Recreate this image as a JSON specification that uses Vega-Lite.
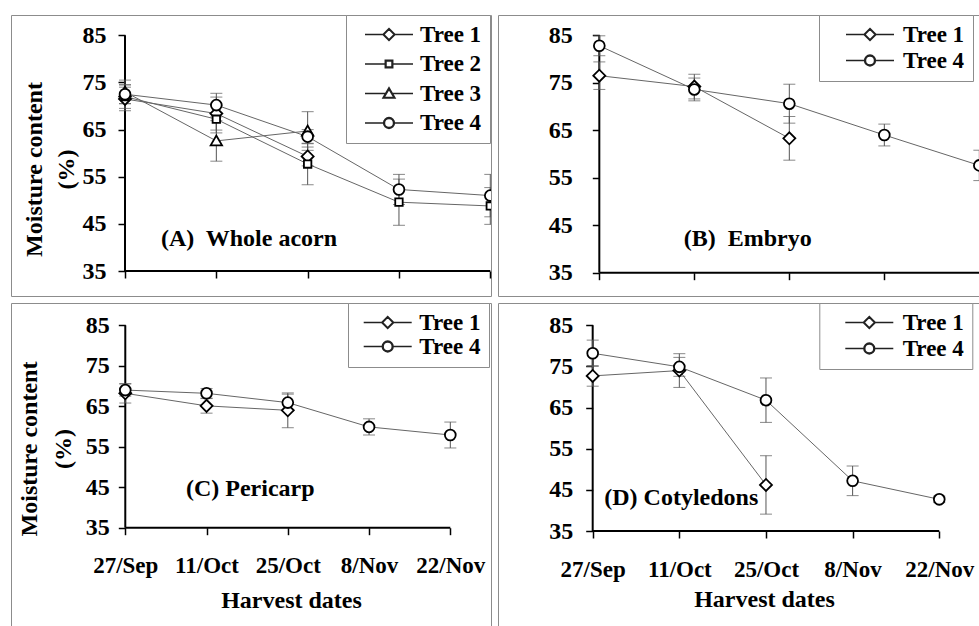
{
  "$schema": "https://vega.github.io/schema/vega-lite/v6.json",
  "background": "white",
  "padding": {"left": 10, "top": 14, "right": 0, "bottom": 0},
  "columns": 2,
  "spacing": 7,
  "bounds": "flush",
  "resolve": {"scale": {"shape": "independent"}, "legend": {"shape": "independent"}},
  "datasets": {
    "moisture": [
      {"panel": "A", "tree": "Tree 1", "day": 0, "mc": 71.5, "err": 2.5},
      {"panel": "A", "tree": "Tree 1", "day": 14, "mc": 68.4, "err": 3.5},
      {"panel": "A", "tree": "Tree 1", "day": 28, "mc": 59.3, "err": 2.0},
      {"panel": "A", "tree": "Tree 2", "day": 0, "mc": 72.0, "err": 2.5},
      {"panel": "A", "tree": "Tree 2", "day": 14, "mc": 67.2, "err": 2.9},
      {"panel": "A", "tree": "Tree 2", "day": 28, "mc": 57.7, "err": 4.4},
      {"panel": "A", "tree": "Tree 2", "day": 42, "mc": 49.6, "err": 4.9},
      {"panel": "A", "tree": "Tree 2", "day": 56, "mc": 48.8, "err": 3.9},
      {"panel": "A", "tree": "Tree 3", "day": 0, "mc": 73.0, "err": 2.5},
      {"panel": "A", "tree": "Tree 3", "day": 14, "mc": 62.6, "err": 4.3},
      {"panel": "A", "tree": "Tree 3", "day": 28, "mc": 64.7, "err": 4.1},
      {"panel": "A", "tree": "Tree 4", "day": 0, "mc": 72.5, "err": 2.0},
      {"panel": "A", "tree": "Tree 4", "day": 14, "mc": 70.2, "err": 2.5},
      {"panel": "A", "tree": "Tree 4", "day": 28, "mc": 63.5, "err": 1.5},
      {"panel": "A", "tree": "Tree 4", "day": 42, "mc": 52.3, "err": 3.2},
      {"panel": "A", "tree": "Tree 4", "day": 56, "mc": 51.0, "err": 4.5},
      {"panel": "B", "tree": "Tree 1", "day": 0, "mc": 76.5, "err": 2.9},
      {"panel": "B", "tree": "Tree 1", "day": 14, "mc": 74.2, "err": 2.6},
      {"panel": "B", "tree": "Tree 1", "day": 28, "mc": 63.3, "err": 4.6},
      {"panel": "B", "tree": "Tree 4", "day": 0, "mc": 82.8, "err": 2.1},
      {"panel": "B", "tree": "Tree 4", "day": 14, "mc": 73.6, "err": 2.4},
      {"panel": "B", "tree": "Tree 4", "day": 28, "mc": 70.6, "err": 4.1},
      {"panel": "B", "tree": "Tree 4", "day": 42, "mc": 64.0, "err": 2.3},
      {"panel": "B", "tree": "Tree 4", "day": 56, "mc": 57.6, "err": 3.2},
      {"panel": "C", "tree": "Tree 1", "day": 0, "mc": 68.2, "err": 2.4},
      {"panel": "C", "tree": "Tree 1", "day": 14, "mc": 65.1, "err": 1.8},
      {"panel": "C", "tree": "Tree 1", "day": 28, "mc": 64.0, "err": 4.3},
      {"panel": "C", "tree": "Tree 4", "day": 0, "mc": 69.0, "err": 1.5},
      {"panel": "C", "tree": "Tree 4", "day": 14, "mc": 68.2, "err": 1.2},
      {"panel": "C", "tree": "Tree 4", "day": 28, "mc": 65.9, "err": 2.1},
      {"panel": "C", "tree": "Tree 4", "day": 42, "mc": 59.9, "err": 2.0},
      {"panel": "C", "tree": "Tree 4", "day": 56, "mc": 57.9, "err": 3.2},
      {"panel": "D", "tree": "Tree 1", "day": 0, "mc": 72.7, "err": 2.5},
      {"panel": "D", "tree": "Tree 1", "day": 14, "mc": 74.0, "err": 4.1},
      {"panel": "D", "tree": "Tree 1", "day": 28, "mc": 46.2, "err": 7.1},
      {"panel": "D", "tree": "Tree 4", "day": 0, "mc": 78.2, "err": 3.2},
      {"panel": "D", "tree": "Tree 4", "day": 14, "mc": 74.9, "err": 2.3},
      {"panel": "D", "tree": "Tree 4", "day": 28, "mc": 66.8, "err": 5.4},
      {"panel": "D", "tree": "Tree 4", "day": 42, "mc": 47.2, "err": 3.6},
      {"panel": "D", "tree": "Tree 4", "day": 56, "mc": 42.7, "err": 0.8}
    ]
  },
  "concat": [
    {
      "width": 480,
      "height": 281,
      "resolve": {"scale": {"shape": "independent"}, "legend": {"shape": "independent"}},
      "layer": [
        {
          "data": {"values": [{}]},
          "mark": {"type": "rule", "color": "black", "strokeWidth": 2},
          "encoding": {"x": {"datum": 0, "type": "quantitative"}, "y": {"datum": 35, "type": "quantitative"}, "y2": {"datum": 85}}
        },
        {
          "data": {"values": [{}]},
          "mark": {"type": "rule", "color": "black", "strokeWidth": 2, "clip": true},
          "encoding": {"x": {"datum": 0, "type": "quantitative"}, "x2": {"datum": 56}, "y": {"datum": 35, "type": "quantitative"}}
        },
        {
          "data": {"name": "moisture"},
          "transform": [{"filter": "datum.panel == 'A'"}],
          "mark": {"type": "line", "color": "#666", "strokeWidth": 1, "clip": true},
          "encoding": {
            "x": {"field": "day", "type": "quantitative", "scale": {"domain": [-17.48, 56.11], "nice": false, "zero": false},
                  "axis": {"values": [0, 14, 28, 42, 56], "offset": -25, "labels": false, "title": null}},
            "y": {"field": "mc", "type": "quantitative", "scale": {"domain": [29.7, 89.31], "nice": false, "zero": false},
                  "axis": {"values": [35, 45, 55, 65, 75, 85], "offset": -114, "labelPadding": 12,
                           "title": ["Moisture content", "(%)"], "titleX": -91, "titleY": 154, "titleBaseline": "middle", "titleAngle": -90, "titleLineHeight": 32}},
            "detail": {"field": "tree"}
          }
        },
        {
          "data": {"name": "moisture"},
          "transform": [{"filter": "datum.panel == 'A'"}],
          "mark": {"type": "errorbar", "ticks": {"size": 12, "color": "#555", "strokeWidth": 1, "clip": true}, "rule": {"color": "#555", "strokeWidth": 1, "clip": true}},
          "encoding": {
            "x": {"field": "day", "type": "quantitative", "title": null},
            "y": {"field": "mc", "type": "quantitative", "title": ["Moisture content", "(%)"]},
            "yError": {"field": "err"}
          }
        },
        {
          "data": {"name": "moisture"},
          "transform": [{"filter": "datum.panel == 'A'"}],
          "mark": {"type": "point", "filled": true, "fill": "white", "stroke": "black", "strokeWidth": 1.8, "opacity": 1, "size": 144, "clip": true},
          "encoding": {
            "x": {"field": "day", "type": "quantitative", "title": null},
            "y": {"field": "mc", "type": "quantitative", "title": ["Moisture content", "(%)"]},
            "shape": {"field": "tree", "type": "nominal", "legend": null,
                      "scale": {"domain": ["Tree 1", "Tree 2", "Tree 3", "Tree 4"],
                                "range": ["M-1,0L0,-1L1,0L0,1Z", "M-0.62,-0.62H0.62V0.62H-0.62Z", "M-0.95,0.75L0,-0.9L0.95,0.75Z", "M-0.9,0A0.9,0.9,0,1,1,0.9,0A0.9,0.9,0,1,1,-0.9,0Z"]}}
          }
        },
        {
          "data": {"name": "moisture"},
          "transform": [{"filter": "datum.panel == 'A'"}],
          "mark": {"type": "point", "filled": true, "fill": "white", "stroke": "#222", "strokeWidth": 1.1, "opacity": 0, "size": 144},
          "encoding": {
            "x": {"field": "day", "type": "quantitative", "title": null},
            "y": {"field": "mc", "type": "quantitative", "title": ["Moisture content", "(%)"]},
            "shape": {"field": "tree", "type": "nominal",
                      "scale": {"domain": ["Tree 1", "Tree 2", "Tree 3", "Tree 4"],
                                "range": ["M-4,0H-1M1,0H4M-1,0L0,-1L1,0L0,1ZM-0.86,0L0,-0.86L0.86,0L0,0.86Z",
                                          "M-4,0H-0.62M0.62,0H4M-0.62,-0.62H0.62V0.62H-0.62ZM-0.5,-0.5H0.5V0.5H-0.5Z",
                                          "M-4,0H-0.56M0.56,0H4M-1,0.75L0,-0.95L1,0.75ZM-0.82,0.65L0,-0.75L0.82,0.65Z",
                                          "M-4,0H-0.9M0.9,0H4M-0.9,0A0.9,0.9,0,1,1,0.9,0A0.9,0.9,0,1,1,-0.9,0ZM-0.76,0A0.76,0.76,0,1,1,0.76,0A0.76,0.76,0,1,1,-0.76,0Z"]},
                      "legend": {"title": null, "orient": "none", "legendX": 335, "legendY": 0, "symbolOffset": 23.5, "labelOffset": 19.5, "rowPadding": 5.5, "symbolOpacity": 1,
                                 "encode": {"symbols": {"update": {"opacity": {"value": 1}, "fill": {"value": "white"}, "stroke": {"value": "#222"}, "strokeWidth": {"value": 1.1}}}}}}
          }
        },
        {
          "data": {"values": [{}]},
          "mark": {"type": "text", "align": "left", "baseline": "middle", "font": "Liberation Serif", "fontSize": 24, "fontWeight": "bold", "color": "black"},
          "encoding": {"x": {"datum": 5.5, "type": "quantitative"}, "y": {"datum": 41.7, "type": "quantitative"}, "text": {"value": "(A)\u00a0 Whole acorn"}}
        }
      ]
    },
    {
      "width": 481,
      "height": 281,
      "resolve": {"scale": {"shape": "independent"}, "legend": {"shape": "independent"}},
      "layer": [
        {
          "data": {"values": [{}]},
          "mark": {"type": "rule", "color": "black", "strokeWidth": 2},
          "encoding": {"x": {"datum": 0, "type": "quantitative"}, "y": {"datum": 35, "type": "quantitative"}, "y2": {"datum": 85}}
        },
        {
          "data": {"values": [{}]},
          "mark": {"type": "rule", "color": "black", "strokeWidth": 2, "clip": true},
          "encoding": {"x": {"datum": 0, "type": "quantitative"}, "x2": {"datum": 56}, "y": {"datum": 35, "type": "quantitative"}}
        },
        {
          "data": {"name": "moisture"},
          "transform": [{"filter": "datum.panel == 'B'"}],
          "mark": {"type": "line", "color": "#666", "strokeWidth": 1, "clip": true},
          "encoding": {
            "x": {"field": "day", "type": "quantitative", "scale": {"domain": [-14.93, 55.95], "nice": false, "zero": false},
                  "axis": {"values": [0, 14, 28, 42, 56], "offset": -23.3, "labels": false, "title": null}},
            "y": {"field": "mc", "type": "quantitative", "scale": {"domain": [30.09, 89.28], "nice": false, "zero": false},
                  "axis": {"values": [35, 45, 55, 65, 75, 85], "offset": -101.3, "labelPadding": 20, "title": null}},
            "detail": {"field": "tree"}
          }
        },
        {
          "data": {"name": "moisture"},
          "transform": [{"filter": "datum.panel == 'B'"}],
          "mark": {"type": "errorbar", "ticks": {"size": 12, "color": "#555", "strokeWidth": 1, "clip": true}, "rule": {"color": "#555", "strokeWidth": 1, "clip": true}},
          "encoding": {
            "x": {"field": "day", "type": "quantitative", "title": null},
            "y": {"field": "mc", "type": "quantitative", "title": null},
            "yError": {"field": "err"}
          }
        },
        {
          "data": {"name": "moisture"},
          "transform": [{"filter": "datum.panel == 'B'"}],
          "mark": {"type": "point", "filled": true, "fill": "white", "stroke": "black", "strokeWidth": 1.8, "opacity": 1, "size": 144, "clip": true},
          "encoding": {
            "x": {"field": "day", "type": "quantitative", "title": null},
            "y": {"field": "mc", "type": "quantitative", "title": null},
            "shape": {"field": "tree", "type": "nominal", "legend": null,
                      "scale": {"domain": ["Tree 1", "Tree 4"], "range": ["M-1,0L0,-1L1,0L0,1Z", "M-0.9,0A0.9,0.9,0,1,1,0.9,0A0.9,0.9,0,1,1,-0.9,0Z"]}}
          }
        },
        {
          "data": {"name": "moisture"},
          "transform": [{"filter": "datum.panel == 'B'"}],
          "mark": {"type": "point", "filled": true, "fill": "white", "stroke": "#222", "strokeWidth": 1.1, "opacity": 0, "size": 144},
          "encoding": {
            "x": {"field": "day", "type": "quantitative", "title": null},
            "y": {"field": "mc", "type": "quantitative", "title": null},
            "shape": {"field": "tree", "type": "nominal",
                      "scale": {"domain": ["Tree 1", "Tree 4"],
                                "range": ["M-4,0H-1M1,0H4M-1,0L0,-1L1,0L0,1ZM-0.86,0L0,-0.86L0.86,0L0,0.86Z",
                                          "M-4,0H-0.9M0.9,0H4M-0.9,0A0.9,0.9,0,1,1,0.9,0A0.9,0.9,0,1,1,-0.9,0ZM-0.76,0A0.76,0.76,0,1,1,0.76,0A0.76,0.76,0,1,1,-0.76,0Z"]},
                      "legend": {"title": null, "orient": "none", "legendX": 321, "legendY": 0, "symbolOffset": 31.5, "labelOffset": 21.5, "rowPadding": 2, "symbolOpacity": 1,
                                 "encode": {"symbols": {"update": {"opacity": {"value": 1}, "fill": {"value": "white"}, "stroke": {"value": "#222"}, "strokeWidth": {"value": 1.1}}}}}}
          }
        },
        {
          "data": {"values": [{}]},
          "mark": {"type": "text", "align": "left", "baseline": "middle", "font": "Liberation Serif", "fontSize": 24, "fontWeight": "bold", "color": "black"},
          "encoding": {"x": {"datum": 12.44, "type": "quantitative"}, "y": {"datum": 42.0, "type": "quantitative"}, "text": {"value": "(B)\u00a0 Embryo"}}
        }
      ]
    },
    {
      "width": 480,
      "height": 323,
      "resolve": {"scale": {"shape": "independent"}, "legend": {"shape": "independent"}},
      "layer": [
        {
          "data": {"values": [{}]},
          "mark": {"type": "rule", "color": "black", "strokeWidth": 2},
          "encoding": {"x": {"datum": 0, "type": "quantitative"}, "y": {"datum": 35, "type": "quantitative"}, "y2": {"datum": 85}}
        },
        {
          "data": {"values": [{}]},
          "mark": {"type": "rule", "color": "black", "strokeWidth": 2, "clip": true},
          "encoding": {"x": {"datum": 0, "type": "quantitative"}, "x2": {"datum": 56}, "y": {"datum": 35, "type": "quantitative"}}
        },
        {
          "data": {"name": "moisture"},
          "transform": [{"filter": "datum.panel == 'C'"}],
          "mark": {"type": "line", "color": "#666", "strokeWidth": 1, "clip": true},
          "encoding": {
            "x": {"field": "day", "type": "quantitative", "scale": {"domain": [-19.69, 63.01], "nice": false, "zero": false},
                  "axis": {"values": [0, 14, 28, 42, 56], "offset": -98.3, "labelPadding": 20,
                           "labelExpr": "datum.value == 0 ? '27/Sep' : datum.value == 14 ? '11/Oct' : datum.value == 28 ? '25/Oct' : datum.value == 42 ? '8/Nov' : '22/Nov'",
                           "title": "Harvest dates", "titleX": 280, "titleY": 73, "titleBaseline": "middle"}},
            "y": {"field": "mc", "type": "quantitative", "scale": {"domain": [10.72, 90.51], "nice": false, "zero": false},
                  "axis": {"values": [35, 45, 55, 65, 75, 85], "offset": -114.3, "labelPadding": 9,
                           "title": ["Moisture content", "(%)"], "titleX": -96, "titleY": 145.5, "titleBaseline": "middle", "titleAngle": -90, "titleLineHeight": 34}},
            "detail": {"field": "tree"}
          }
        },
        {
          "data": {"name": "moisture"},
          "transform": [{"filter": "datum.panel == 'C'"}],
          "mark": {"type": "errorbar", "ticks": {"size": 12, "color": "#555", "strokeWidth": 1, "clip": true}, "rule": {"color": "#555", "strokeWidth": 1, "clip": true}},
          "encoding": {
            "x": {"field": "day", "type": "quantitative", "title": "Harvest dates"},
            "y": {"field": "mc", "type": "quantitative", "title": ["Moisture content", "(%)"]},
            "yError": {"field": "err"}
          }
        },
        {
          "data": {"name": "moisture"},
          "transform": [{"filter": "datum.panel == 'C'"}],
          "mark": {"type": "point", "filled": true, "fill": "white", "stroke": "black", "strokeWidth": 1.8, "opacity": 1, "size": 144, "clip": true},
          "encoding": {
            "x": {"field": "day", "type": "quantitative", "title": "Harvest dates"},
            "y": {"field": "mc", "type": "quantitative", "title": ["Moisture content", "(%)"]},
            "shape": {"field": "tree", "type": "nominal", "legend": null,
                      "scale": {"domain": ["Tree 1", "Tree 4"], "range": ["M-1,0L0,-1L1,0L0,1Z", "M-0.9,0A0.9,0.9,0,1,1,0.9,0A0.9,0.9,0,1,1,-0.9,0Z"]}}
          }
        },
        {
          "data": {"name": "moisture"},
          "transform": [{"filter": "datum.panel == 'C'"}],
          "mark": {"type": "point", "filled": true, "fill": "white", "stroke": "#222", "strokeWidth": 1.1, "opacity": 0, "size": 144},
          "encoding": {
            "x": {"field": "day", "type": "quantitative", "title": "Harvest dates"},
            "y": {"field": "mc", "type": "quantitative", "title": ["Moisture content", "(%)"]},
            "shape": {"field": "tree", "type": "nominal",
                      "scale": {"domain": ["Tree 1", "Tree 4"],
                                "range": ["M-4,0H-1M1,0H4M-1,0L0,-1L1,0L0,1ZM-0.86,0L0,-0.86L0.86,0L0,0.86Z",
                                          "M-4,0H-0.9M0.9,0H4M-0.9,0A0.9,0.9,0,1,1,0.9,0A0.9,0.9,0,1,1,-0.9,0ZM-0.76,0A0.76,0.76,0,1,1,0.76,0A0.76,0.76,0,1,1,-0.76,0Z"]},
                      "legend": {"title": null, "orient": "none", "legendX": 337, "legendY": 0, "symbolOffset": 20.2, "labelOffset": 20.1, "rowPadding": 0, "symbolOpacity": 1,
                                 "encode": {"symbols": {"update": {"opacity": {"value": 1}, "fill": {"value": "white"}, "stroke": {"value": "#222"}, "strokeWidth": {"value": 1.1}}}}}}
          }
        },
        {
          "data": {"values": [{}]},
          "mark": {"type": "text", "align": "left", "baseline": "middle", "font": "Liberation Serif", "fontSize": 24, "fontWeight": "bold", "color": "black"},
          "encoding": {"x": {"datum": 10.46, "type": "quantitative"}, "y": {"datum": 44.6, "type": "quantitative"}, "text": {"value": "(C) Pericarp"}}
        }
      ]
    },
    {
      "width": 481,
      "height": 323,
      "resolve": {"scale": {"shape": "independent"}, "legend": {"shape": "independent"}},
      "layer": [
        {
          "data": {"values": [{}]},
          "mark": {"type": "rule", "color": "black", "strokeWidth": 2},
          "encoding": {"x": {"datum": 0, "type": "quantitative"}, "y": {"datum": 35, "type": "quantitative"}, "y2": {"datum": 85}}
        },
        {
          "data": {"values": [{}]},
          "mark": {"type": "rule", "color": "black", "strokeWidth": 2, "clip": true},
          "encoding": {"x": {"datum": 0, "type": "quantitative"}, "x2": {"datum": 56}, "y": {"datum": 35, "type": "quantitative"}}
        },
        {
          "data": {"name": "moisture"},
          "transform": [{"filter": "datum.panel == 'D'"}],
          "mark": {"type": "line", "color": "#666", "strokeWidth": 1, "clip": true},
          "encoding": {
            "x": {"field": "day", "type": "quantitative", "scale": {"domain": [-15.3, 62.42], "nice": false, "zero": false},
                  "axis": {"values": [0, 14, 28, 42, 56], "offset": -95, "labelPadding": 20,
                           "labelExpr": "datum.value == 0 ? '27/Sep' : datum.value == 14 ? '11/Oct' : datum.value == 28 ? '25/Oct' : datum.value == 42 ? '8/Nov' : '22/Nov'",
                           "title": "Harvest dates", "titleX": 266, "titleY": 68, "titleBaseline": "middle"}},
            "y": {"field": "mc", "type": "quantitative", "scale": {"domain": [11.91, 90.42], "nice": false, "zero": false},
                  "axis": {"values": [35, 45, 55, 65, 75, 85], "offset": -94.7, "labelPadding": 13, "title": null}},
            "detail": {"field": "tree"}
          }
        },
        {
          "data": {"name": "moisture"},
          "transform": [{"filter": "datum.panel == 'D'"}],
          "mark": {"type": "errorbar", "ticks": {"size": 12, "color": "#555", "strokeWidth": 1, "clip": true}, "rule": {"color": "#555", "strokeWidth": 1, "clip": true}},
          "encoding": {
            "x": {"field": "day", "type": "quantitative", "title": "Harvest dates"},
            "y": {"field": "mc", "type": "quantitative", "title": null},
            "yError": {"field": "err"}
          }
        },
        {
          "data": {"name": "moisture"},
          "transform": [{"filter": "datum.panel == 'D'"}],
          "mark": {"type": "point", "filled": true, "fill": "white", "stroke": "black", "strokeWidth": 1.8, "opacity": 1, "size": 144, "clip": true},
          "encoding": {
            "x": {"field": "day", "type": "quantitative", "title": "Harvest dates"},
            "y": {"field": "mc", "type": "quantitative", "title": null},
            "shape": {"field": "tree", "type": "nominal", "legend": null,
                      "scale": {"domain": ["Tree 1", "Tree 4"], "range": ["M-1,0L0,-1L1,0L0,1Z", "M-0.9,0A0.9,0.9,0,1,1,0.9,0A0.9,0.9,0,1,1,-0.9,0Z"]}}
          }
        },
        {
          "data": {"name": "moisture"},
          "transform": [{"filter": "datum.panel == 'D'"}],
          "mark": {"type": "point", "filled": true, "fill": "white", "stroke": "#222", "strokeWidth": 1.1, "opacity": 0, "size": 144},
          "encoding": {
            "x": {"field": "day", "type": "quantitative", "title": "Harvest dates"},
            "y": {"field": "mc", "type": "quantitative", "title": null},
            "shape": {"field": "tree", "type": "nominal",
                      "scale": {"domain": ["Tree 1", "Tree 4"],
                                "range": ["M-4,0H-1M1,0H4M-1,0L0,-1L1,0L0,1ZM-0.86,0L0,-0.86L0.86,0L0,0.86Z",
                                          "M-4,0H-0.9M0.9,0H4M-0.9,0A0.9,0.9,0,1,1,0.9,0A0.9,0.9,0,1,1,-0.9,0ZM-0.76,0A0.76,0.76,0,1,1,0.76,0A0.76,0.76,0,1,1,-0.76,0Z"]},
                      "legend": {"title": null, "orient": "none", "legendX": 321.3, "legendY": 0, "symbolOffset": 30.5, "labelOffset": 21.9, "rowPadding": 2, "symbolOpacity": 1,
                                 "encode": {"symbols": {"update": {"opacity": {"value": 1}, "fill": {"value": "white"}, "stroke": {"value": "#222"}, "strokeWidth": {"value": 1.1}}}}}}
          }
        },
        {
          "data": {"values": [{}]},
          "mark": {"type": "text", "align": "left", "baseline": "middle", "font": "Liberation Serif", "fontSize": 24, "fontWeight": "bold", "color": "black"},
          "encoding": {"x": {"datum": 1.87, "type": "quantitative"}, "y": {"datum": 43.1, "type": "quantitative"}, "text": {"value": "(D) Cotyledons"}}
        }
      ]
    }
  ],
  "config": {
    "font": "Liberation Serif",
    "view": {"stroke": "#8c8c8c", "strokeWidth": 1},
    "axis": {
      "domain": false,
      "grid": false,
      "ticks": true,
      "tickColor": "black",
      "tickWidth": 1.5,
      "tickSize": 7,
      "labelFont": "Liberation Serif",
      "labelFontSize": 24,
      "labelFontWeight": "bold",
      "labelColor": "black",
      "labelOverlap": false,
      "labelFlush": false,
      "labelBound": false,
      "titleFont": "Liberation Serif",
      "titleFontSize": 24,
      "titleFontWeight": "bold",
      "titleColor": "black"
    },
    "axisX": {"labelFontSize": 23},
    "legend": {
      "labelFont": "Liberation Serif",
      "labelFontSize": 23,
      "labelFontWeight": "bold",
      "labelColor": "black",
      "strokeColor": "#8c8c8c",
      "fillColor": "white",
      "padding": 8,
      "symbolSize": 144
    }
  }
}
